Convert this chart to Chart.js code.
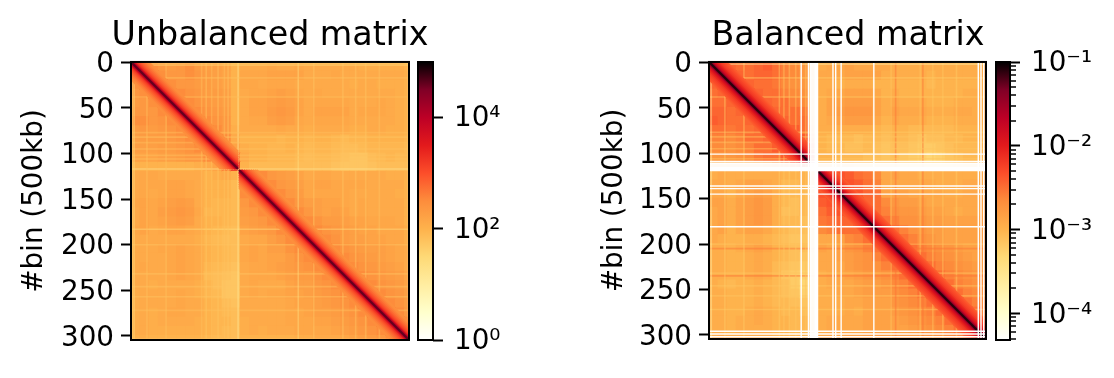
<!DOCTYPE html>
<html>
<head>
<meta charset="utf-8">
<title>Unbalanced and balanced matrix</title>
<script src="https://cdn.jsdelivr.net/npm/chart.js@4/dist/chart.umd.min.js"></script>
<style>
    html, body { margin: 0; padding: 0; background: #fff; }
    #page { position: relative; width: 1114px; height: 378px; overflow: hidden; }
    canvas { position: absolute; top: 0; }
</style>
</head>
<body>
<div id="page">
    <canvas id="heatLeft" style="left:0" width="540" height="378"></canvas>
    <canvas id="barLeft" style="left:411px" width="110" height="378"></canvas>
    <canvas id="heatRight" style="left:580px" width="536" height="378"></canvas>
    <canvas id="barRight" style="left:988px" width="126" height="378"></canvas>
</div>
<script>
// bins per cell of the coarse grids below, and bins in the whole matrix
const CELL_BINS = 10;
const BIN_COUNT = 305;

const binTicks = [0, 50, 100, 150, 200, 250, 300];

// log10 of the contacts, upper triangle only (row i starts at column i)
const unbalancedRows = [
    [3.4,3.0,2.45,2.35,2.3, 2.35,2.45,2.3,2.25,2.25, 2.2,2.0,2.1,2.1,2.1, 2.15,2.1,2.1,2.15,2.1, 2.1,2.1,2.1,2.1,2.1, 2.05,2.05,2.05,2.05,2.05, 2.0],
    [3.4,3.0,2.45,2.35, 2.35,2.45,2.35,2.3,2.25, 2.2,2.0,2.15,2.15,2.15, 2.2,2.2,2.2,2.2,2.1, 2.1,2.1,2.15,2.1,2.1, 2.1,2.1,2.1,2.1,2.1, 2.05],
    [3.4,3.0,2.45, 2.35,2.35,2.3,2.3,2.25, 2.2,2.0,2.15,2.15,2.1, 2.15,2.15,2.15,2.1,2.1, 2.1,2.1,2.1,2.1,2.05, 2.1,2.1,2.05,2.05,2.05, 2.0],
    [3.4,3.0, 2.5,2.4,2.35,2.3,2.3, 2.25,2.0,2.1,2.15,2.15, 2.2,2.25,2.2,2.15,2.1, 2.15,2.1,2.1,2.1,2.1, 2.1,2.1,2.1,2.1,2.05, 2.0],
    [3.4, 3.0,2.5,2.4,2.35,2.3, 2.25,2.0,2.1,2.2,2.2, 2.25,2.3,2.25,2.2,2.1, 2.15,2.15,2.15,2.15,2.1, 2.1,2.1,2.15,2.1,2.05, 2.0],
    [3.4,3.0,2.5,2.4,2.35, 2.3,2.0,2.1,2.2,2.2, 2.3,2.35,2.3,2.2,2.1, 2.2,2.2,2.2,2.2,2.1, 2.15,2.15,2.15,2.1,2.05, 2.0],
    [3.4,3.0,2.5,2.4, 2.35,2.0,2.1,2.15,2.15, 2.25,2.3,2.25,2.15,2.1, 2.15,2.15,2.15,2.15,2.1, 2.1,2.1,2.1,2.1,2.05, 2.0],
    [3.4,3.0,2.5, 2.35,2.05,2.1,2.1,2.1, 2.1,2.15,2.1,2.1,2.05, 2.1,2.1,2.1,2.1,2.05, 2.05,2.1,2.1,2.05,2.05, 2.0],
    [3.4,3.0, 2.5,2.1,2.0,2.0,2.0, 2.0,1.95,2.0,2.0,1.95, 2.0,2.0,1.95,1.9,1.95, 1.95,2.0,2.0,2.0,2.0, 1.95],
    [3.4, 3.0,2.2,2.05,2.0,2.0, 1.95,1.95,2.0,1.95,1.9, 1.95,1.95,1.9,1.85,1.85, 1.9,1.95,1.95,1.95,1.95, 1.9],
    [3.4,2.6,2.1,2.0,2.0, 1.95,1.95,1.95,1.9,1.85, 1.9,1.9,1.85,1.8,1.75, 1.75,1.85,1.9,1.95,1.9, 1.9],
    [3.2,2.0,1.9,1.9, 1.9,1.9,1.9,1.85,1.85, 1.85,1.85,1.8,1.75,1.75, 1.75,1.8,1.85,1.85,1.85, 1.85],
    [3.4,3.0,2.5, 2.35,2.3,2.25,2.2,2.1, 2.15,2.15,2.1,2.1,2.1, 2.1,2.1,2.1,2.05,2.05, 2.0],
    [3.4,3.0, 2.5,2.35,2.3,2.25,2.15, 2.2,2.2,2.15,2.15,2.15, 2.15,2.1,2.1,2.1,2.1, 2.0],
    [3.4, 3.0,2.5,2.35,2.3,2.15, 2.15,2.15,2.15,2.15,2.1, 2.1,2.1,2.1,2.1,2.05, 2.0],
    [3.4,3.0,2.5,2.35,2.25, 2.25,2.2,2.2,2.15,2.1, 2.15,2.1,2.1,2.1,2.1, 2.0],
    [3.4,3.0,2.5,2.35, 2.25,2.2,2.25,2.2,2.1, 2.15,2.1,2.1,2.1,2.1, 2.0],
    [3.4,3.0,2.5, 2.4,2.3,2.3,2.25,2.2, 2.2,2.15,2.15,2.15,2.1, 2.0],
    [3.4,3.0, 2.5,2.4,2.35,2.3,2.25, 2.2,2.2,2.15,2.15,2.15, 2.05],
    [3.4, 3.0,2.5,2.4,2.3,2.25, 2.25,2.2,2.2,2.15,2.15, 2.05],
    [3.4,3.0,2.5,2.4,2.35, 2.3,2.25,2.25,2.2,2.15, 2.1],
    [3.4,3.0,2.5,2.4, 2.35,2.3,2.25,2.2,2.15, 2.1],
    [3.4,3.0,2.5, 2.4,2.35,2.3,2.25,2.2, 2.1],
    [3.4,3.0, 2.5,2.4,2.35,2.3,2.25, 2.15],
    [3.4, 3.0,2.5,2.4,2.35,2.3, 2.2],
    [3.4,3.0,2.5,2.4,2.35, 2.25],
    [3.4,3.0,2.5,2.4, 2.3],
    [3.4,3.0,2.5, 2.35],
    [3.4,3.0, 2.5],
    [3.4, 3.0],
    [3.4]
];

const balancedRows = [
    [-1.7,-2.1,-2.45,-2.5,-2.5, -2.45,-2.4,-2.5,-2.6,-2.65, -2.75,-2.95,-2.95,-2.9,-2.9, -2.85,-2.9,-2.9,-2.9,-2.9, -2.95,-2.95,-2.95,-2.95,-2.95, -2.95,-2.95,-2.95,-2.95,-2.95, -2.95],
    [-1.7,-2.1,-2.45,-2.5, -2.45,-2.45,-2.5,-2.6,-2.65, -2.75,-2.95,-2.9,-2.9,-2.9, -2.85,-2.85,-2.85,-2.85,-2.95, -2.95,-2.95,-2.95,-2.95,-3.0, -2.95,-2.95,-2.95,-2.95,-2.95, -2.9],
    [-1.7,-2.1,-2.45, -2.5,-2.5,-2.55,-2.65,-2.7, -2.75,-2.95,-2.95,-2.95,-3.0, -2.95,-2.95,-2.95,-3.0,-3.0, -3.0,-3.0,-3.0,-3.0,-3.05, -3.0,-3.0,-3.0,-3.0,-3.0, -2.95],
    [-1.7,-2.1, -2.45,-2.5,-2.5,-2.6,-2.65, -2.7,-2.95,-2.95,-2.9,-2.9, -2.85,-2.85,-2.85,-2.9,-3.0, -2.95,-3.0,-3.0,-3.0,-3.0, -3.0,-3.0,-3.0,-2.95,-2.95, -2.95],
    [-1.7, -2.1,-2.45,-2.5,-2.5,-2.6, -2.65,-2.95,-2.95,-2.85,-2.85, -2.8,-2.8,-2.8,-2.85,-2.95, -2.9,-2.95,-2.95,-2.95,-3.0, -3.0,-3.0,-2.95,-2.95,-2.95, -2.95],
    [-1.7,-2.1,-2.45,-2.5,-2.5, -2.55,-2.9,-2.95,-2.85,-2.8, -2.75,-2.75,-2.75,-2.85,-2.95, -2.85,-2.9,-2.9,-2.9,-2.95, -2.95,-2.95,-2.9,-2.9,-2.95, -2.95],
    [-1.7,-2.1,-2.45,-2.5, -2.5,-2.85,-2.95,-2.9,-2.85, -2.8,-2.8,-2.8,-2.9,-3.0, -2.9,-2.95,-2.95,-2.95,-3.0, -3.0,-3.0,-2.95,-2.95,-2.95, -2.95],
    [-1.7,-2.1,-2.4, -2.5,-2.7,-2.95,-2.95,-2.95, -2.95,-2.95,-2.95,-3.0,-3.05, -3.0,-3.0,-3.05,-3.05,-3.05, -3.05,-3.05,-3.0,-3.0,-3.0, -3.0],
    [-1.7,-2.1, -2.4,-2.55,-3.0,-3.05,-3.05, -3.05,-3.1,-3.05,-3.05,-3.1, -3.05,-3.05,-3.1,-3.15,-3.1, -3.1,-3.05,-3.05,-3.0,-3.0, -3.0],
    [-1.7, -2.1,-2.4,-3.0,-3.05,-3.05, -3.1,-3.1,-3.05,-3.1,-3.15, -3.1,-3.1,-3.15,-3.2,-3.2, -3.15,-3.1,-3.05,-3.05,-3.05, -3.0],
    [-1.7,-2.1,-3.0,-3.0,-3.05, -3.05,-3.05,-3.1,-3.1,-3.15, -3.1,-3.15,-3.2,-3.25,-3.3, -3.25,-3.15,-3.1,-3.05,-3.05, -3.0],
    [-1.7,-3.0,-3.0,-3.0, -3.0,-3.05,-3.05,-3.1,-3.1, -3.1,-3.15,-3.15,-3.2,-3.2, -3.2,-3.15,-3.1,-3.05,-3.05, -3.0],
    [-1.7,-2.1,-2.35, -2.4,-2.5,-2.55,-2.65,-2.9, -2.85,-2.9,-2.9,-2.95,-2.95, -2.95,-2.95,-2.95,-2.95,-2.95, -2.9],
    [-1.7,-2.1, -2.35,-2.4,-2.5,-2.6,-2.9, -2.9,-2.9,-2.9,-2.9,-2.9, -2.95,-2.95,-2.95,-2.9,-2.9, -2.9],
    [-1.7, -2.1,-2.35,-2.45,-2.5,-2.85, -2.85,-2.85,-2.9,-2.9,-2.9, -2.9,-2.95,-2.95,-2.9,-2.9, -2.9],
    [-1.7,-2.1,-2.45,-2.5,-2.65, -2.75,-2.8,-2.8,-2.85,-2.9, -2.9,-2.9,-2.9,-2.9,-2.9, -2.85],
    [-1.7,-2.1,-2.5,-2.6, -2.7,-2.75,-2.75,-2.8,-2.85, -2.85,-2.9,-2.95,-2.9,-2.9, -2.85],
    [-1.7,-2.1,-2.5, -2.6,-2.7,-2.7,-2.75,-2.8, -2.8,-2.85,-2.85,-2.85,-2.85, -2.8],
    [-1.7,-2.1, -2.5,-2.6,-2.7,-2.75,-2.8, -2.8,-2.85,-2.85,-2.85,-2.85, -2.8],
    [-1.7, -2.1,-2.5,-2.6,-2.7,-2.75, -2.8,-2.85,-2.85,-2.85,-2.85, -2.8],
    [-1.7,-2.1,-2.5,-2.6,-2.65, -2.7,-2.75,-2.8,-2.85,-2.85, -2.8],
    [-1.7,-2.1,-2.5,-2.6, -2.65,-2.7,-2.75,-2.8,-2.85, -2.8],
    [-1.7,-2.1,-2.5, -2.6,-2.65,-2.7,-2.75,-2.8, -2.8],
    [-1.7,-2.1, -2.5,-2.6,-2.65,-2.7,-2.75, -2.75],
    [-1.7, -2.1,-2.5,-2.6,-2.65,-2.7, -2.7],
    [-1.7,-2.1,-2.5,-2.6,-2.65, -2.7],
    [-1.7,-2.1,-2.5,-2.6, -2.65],
    [-1.7,-2.1,-2.5, -2.6],
    [-1.7,-2.1, -2.5],
    [-1.7, -2.1],
    [-1.7]
];

// distance from the diagonal in bins, and log10 value along that distance
const bandOffsets = [0, 1.5, 3, 5, 7, 9, 11, 13, 15, 17, 19];
const unbalancedBand = [4.6, 4.0, 3.55, 3.25, 3.05, 2.9, 2.78, 2.68, 2.58, 2.5, 2.45];
const balancedBand = [-1.1, -1.4, -1.7, -1.85, -2.0, -2.1, -2.2, -2.25, -2.3, -2.35, -2.4];

// first and last bin of the two chromosome arms
const unbalancedArms = [[0, 117], [118, 304]];
const balancedArms = [[0, 110], [120, 304]];

// rows and columns that stand out from their surroundings, the plaid of the maps
const unbalancedStripeBins = [1, 3, 17, 38, 77, 82, 88, 95, 102, 106, 117, 183, 200, 232, 246, 257, 272, 304];
const unbalancedStripeValues = [1.5, 1.5, 1.8, 1.8, 1.8, 1.75, 1.8, 1.75, 1.8, 1.75, 1.1, 1.4, 1.75, 1.75, 1.75, 1.75, 1.8, 0.6];
const balancedStripeBins = [0, 2, 17, 38, 77, 82, 88, 95, 106, 200, 205, 232, 235, 246, 257, 272, 304];
const balancedStripeValues = [-3.8, -3.7, -3.2, -3.2, -3.2, -3.15, -3.2, -3.15, -3.15, -3.15, -2.5, -3.15, -2.5, -3.15, -3.15, -3.2, -2.4];

// bins filtered out by balancing, they stay white
const maskedBins = [101, 109, 111, 112, 113, 114, 115, 116, 117, 118, 119, 136, 139, 145, 181, 296, 299, 302];

// colour bar ranges and ticks
const unbalancedRange = [1, 98000];
const balancedRange = [0.000048, 0.1];
const unbalancedColorTicks = [1, 100, 10000];
const unbalancedColorLabels = ['10⁰', '10²', '10⁴'];
const balancedColorTicks = [0.0001, 0.001, 0.01, 0.1];
const balancedColorLabels = ['10⁻⁴', '10⁻³', '10⁻²', '10⁻¹'];

const colorStops = [
    [255, 255, 255], [255, 255, 204], [255, 237, 160], [254, 217, 118],
    [254, 178, 76], [253, 141, 60], [252, 78, 42], [227, 26, 28],
    [189, 0, 38], [128, 0, 38], [0, 0, 0]
];

const FONT_FAMILY = '"DejaVu Sans"';
const TICK_FONT = 27.8;
const TITLE_FONT = 33.3;
const STRIPE_ALPHA = 0.45;

Chart.defaults.font.family = FONT_FAMILY;
Chart.defaults.color = '#000';
Chart.defaults.animation = false;

function colorAt(p, alpha = 1) {
    const t = Math.min(Math.max(p, 0), 1) * (colorStops.length - 1);
    const i = Math.min(Math.floor(t), colorStops.length - 2);
    const f = t - i;
    const c = colorStops[i].map((a, k) => Math.round(a + (colorStops[i + 1][k] - a) * f));
    return `rgba(${c[0]},${c[1]},${c[2]},${alpha})`;
}

// black box round the plot area
const framePlugin = {
    id: 'frame',
    afterDraw(chart) {
        const { ctx, chartArea: a } = chart;
        ctx.save();
        ctx.strokeStyle = '#000';
        ctx.lineWidth = 2;
        ctx.strokeRect(a.left, a.top, a.right - a.left, a.bottom - a.top);
        ctx.restore();
    }
};

function lineSet(x0, y0, x1, y1, color, width) {
    return {
        xAxisID: 'x',
        yAxisID: 'y',
        showLine: true,
        data: [{ x: x0, y: y0 }, { x: x1, y: y1 }],
        borderColor: color,
        borderWidth: width,
        borderCapStyle: 'butt',
        pointRadius: 0
    };
}

function makeHeat(id, cfg) {
    const toColor = (v, alpha) => colorAt((v - cfg.logMin) / (cfg.logMax - cfg.logMin), alpha);
    const datasets = [];

    // masked bins sit on top of everything
    (cfg.masked || []).forEach(bin => {
        datasets.push(lineSet(bin, -0.5, bin, 304.5, '#fff', 1.4));
        datasets.push(lineSet(-0.5, bin, 304.5, bin, '#fff', 1.4));
    });

    // diagonal bands, the centre one first so it is drawn last
    bandOffsets.forEach((offset, k) => {
        const color = toColor(cfg.band[k]);
        cfg.arms.forEach(([a, b]) => {
            datasets.push(lineSet(a + offset, a, b, b - offset, color, 2.2));
            if (offset > 0) datasets.push(lineSet(a, a + offset, b - offset, b, color, 2.2));
        });
    });

    cfg.stripeBins.forEach((bin, k) => {
        const color = toColor(cfg.stripeValues[k], STRIPE_ALPHA);
        datasets.push(lineSet(bin, -0.5, bin, 304.5, color, 1.6));
        datasets.push(lineSet(-0.5, bin, 304.5, bin, color, 1.6));
    });

    const cells = [];
    cfg.rows.forEach((row, i) => {
        row.forEach((v, k) => {
            const j = i + k;
            const cx = j * CELL_BINS + (CELL_BINS - 1) / 2;
            const cy = i * CELL_BINS + (CELL_BINS - 1) / 2;
            cells.push({ x: cx, y: cy, v });
            if (i !== j) cells.push({ x: cy, y: cx, v });
        });
    });
    datasets.push({
        xAxisID: 'x',
        yAxisID: 'y',
        data: cells,
        pointStyle: 'rect',
        borderWidth: 0,
        pointBorderWidth: 0,
        pointBackgroundColor: ctx => toColor(ctx.raw.v),
        pointRadius: ctx => {
            const x = ctx.chart.scales.x;
            const side = Math.abs(x.getPixelForValue(CELL_BINS) - x.getPixelForValue(0)) + 1;
            return side * Math.SQRT1_2;
        }
    });

    return new Chart(document.getElementById(id), {
        type: 'scatter',
        data: { datasets },
        plugins: [framePlugin],
        options: {
            responsive: false,
            events: [],
            layout: { padding: { left: 0, right: 0, top: 0, bottom: cfg.bottom } },
            plugins: {
                legend: { display: false },
                tooltip: { enabled: false },
                title: {
                    display: true,
                    text: cfg.title,
                    color: '#000',
                    font: { size: TITLE_FONT, weight: 'normal' },
                    padding: { top: 16, bottom: 6 }
                }
            },
            scales: {
                x: { type: 'linear', display: false, min: -0.5, max: BIN_COUNT - 0.5 },
                y: {
                    type: 'linear',
                    reverse: true,
                    min: -0.5,
                    max: BIN_COUNT - 0.5,
                    afterBuildTicks: scale => { scale.ticks = binTicks.map(value => ({ value })); },
                    afterFit: scale => { scale.width = cfg.axisWidth; },
                    border: { display: false },
                    grid: { drawOnChartArea: false, tickLength: 10, tickWidth: 2, tickColor: '#000' },
                    ticks: { autoSkip: false, font: { size: TICK_FONT }, padding: 7, labelOffset: 2.5, callback: v => String(v) },
                    title: {
                        display: true,
                        text: '#bin (500kb)',
                        font: { size: TICK_FONT },
                        padding: { top: 18, bottom: 0 }
                    }
                },
                // empty axis on the right, it keeps the title centred over the plot
                spacer: {
                    type: 'linear',
                    position: 'right',
                    grid: { display: false },
                    border: { display: false },
                    ticks: { display: false },
                    afterFit: scale => { scale.width = cfg.right; }
                }
            }
        }
    });
}

function makeColorBar(id, cfg) {
    const minorTickPlugin = {
        id: 'minorTicks',
        afterDraw(chart) {
            const { ctx, chartArea: a, scales } = chart;
            ctx.save();
            ctx.strokeStyle = '#000';
            ctx.lineWidth = 1.5;
            (cfg.minorTicks || []).forEach(value => {
                const y = Math.round(scales.y.getPixelForValue(value));
                ctx.beginPath();
                ctx.moveTo(a.right, y);
                ctx.lineTo(a.right + 6, y);
                ctx.stroke();
            });
            ctx.restore();
        }
    };
    return new Chart(document.getElementById(id), {
        type: 'bar',
        data: {
            labels: ['scale'],
            datasets: [{
                data: [cfg.range],
                barPercentage: 1,
                categoryPercentage: 1,
                backgroundColor: ctx => {
                    const a = ctx.chart.chartArea;
                    if (!a) return '#fff';
                    const g = ctx.chart.ctx.createLinearGradient(0, a.bottom, 0, a.top);
                    colorStops.forEach((c, i) => {
                        g.addColorStop(i / (colorStops.length - 1), `rgb(${c[0]},${c[1]},${c[2]})`);
                    });
                    return g;
                }
            }]
        },
        plugins: [framePlugin, minorTickPlugin],
        options: {
            responsive: false,
            events: [],
            layout: { padding: { left: cfg.left, top: cfg.top, bottom: cfg.bottom, right: 0 } },
            plugins: { legend: { display: false }, tooltip: { enabled: false } },
            scales: {
                x: { display: false },
                y: {
                    type: 'logarithmic',
                    position: 'right',
                    min: cfg.range[0],
                    max: cfg.range[1],
                    afterBuildTicks: scale => { scale.ticks = cfg.ticks.map(value => ({ value })); },
                    afterFit: scale => { scale.width = cfg.axisWidth; },
                    border: { display: false },
                    grid: { drawOnChartArea: false, tickLength: 10, tickWidth: 2, tickColor: '#000' },
                    ticks: {
                        autoSkip: false,
                        maxRotation: 0,
                        font: { size: TICK_FONT },
                        padding: 11,
                        labelOffset: 2,
                        callback: (v, i) => cfg.labels[i]
                    }
                }
            }
        }
    });
}

// minor ticks of the balanced colour bar
const balancedMinorTicks = [];
[0.00001, 0.0001, 0.001, 0.01].forEach(decade => {
    [2, 3, 4, 5, 6, 7, 8, 9].forEach(m => {
        const value = m * decade;
        if (value > balancedRange[0] && value < balancedRange[1]) balancedMinorTicks.push(value);
    });
});

makeHeat('heatLeft', {
    title: 'Unbalanced matrix',
    rows: unbalancedRows,
    band: unbalancedBand,
    arms: unbalancedArms,
    stripeBins: unbalancedStripeBins,
    stripeValues: unbalancedStripeValues,
    logMin: Math.log10(unbalancedRange[0]),
    logMax: Math.log10(unbalancedRange[1]),
    axisWidth: 131,
    right: 131,
    bottom: 38
});

makeHeat('heatRight', {
    title: 'Balanced matrix',
    rows: balancedRows,
    band: balancedBand,
    arms: balancedArms,
    stripeBins: balancedStripeBins,
    stripeValues: balancedStripeValues,
    masked: maskedBins,
    logMin: Math.log10(balancedRange[0]),
    logMax: Math.log10(balancedRange[1]),
    axisWidth: 129,
    right: 130,
    bottom: 39
});

makeColorBar('barLeft', {
    range: unbalancedRange,
    ticks: unbalancedColorTicks,
    labels: unbalancedColorLabels,
    left: 7,
    top: 62,
    bottom: 38,
    axisWidth: 88
});

makeColorBar('barRight', {
    range: balancedRange,
    ticks: balancedColorTicks,
    labels: balancedColorLabels,
    minorTicks: balancedMinorTicks,
    left: 8,
    top: 62,
    bottom: 38,
    axisWidth: 104
});
</script>
</body>
</html>
